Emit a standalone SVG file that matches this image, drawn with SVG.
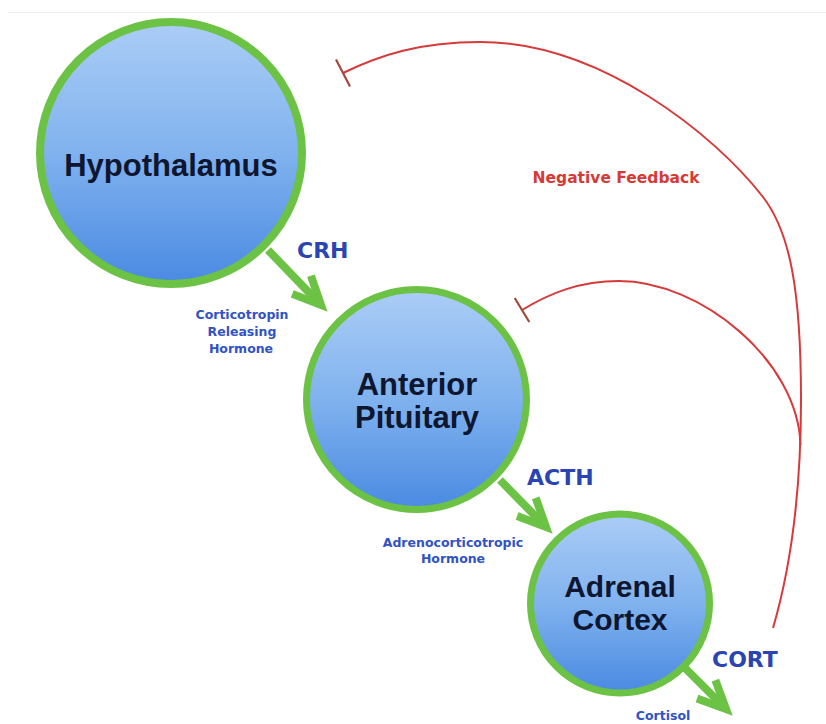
<svg xmlns="http://www.w3.org/2000/svg" width="826" height="724" viewBox="0 0 826 724">
  <defs>
    <linearGradient id="blue" x1="0" y1="0" x2="0" y2="1">
      <stop offset="0" stop-color="#abcdf6"/>
      <stop offset="0.5" stop-color="#80b2ee"/>
      <stop offset="1" stop-color="#4a8ae2"/>
    </linearGradient>
    <marker id="chev" markerUnits="userSpaceOnUse" markerWidth="60" markerHeight="60" viewBox="-40 -30 60 60" refX="0" refY="0" orient="auto" overflow="visible">
      <path d="M -28,-13 L 0,0 L -28,13" fill="none" stroke="#6cc245" stroke-width="8" stroke-linejoin="miter" stroke-miterlimit="4"/>
    </marker>
    <style>
      .node circle { fill: url(#blue); stroke: #6cc245; }
      .nlabel { font-family: "Liberation Sans", Arial, sans-serif; font-weight: bold; fill: #0e1630; text-anchor: middle; }
      .hlabel { font-family: "DejaVu Sans", Verdana, sans-serif; font-weight: bold; fill: #2a45b3; font-size: 22px; }
      .small { font-family: "DejaVu Sans", Verdana, sans-serif; font-weight: bold; fill: #3152c4; font-size: 12.5px; text-anchor: middle; }
      .flow { stroke: #6cc245; stroke-width: 8; fill: none; marker-end: url(#chev); }
      .fb { stroke: #d63a3a; stroke-width: 2; fill: none; }
      .bar { stroke: #a04a3c; stroke-width: 2.2; fill: none; }
      .fbtext { font-family: "DejaVu Sans", Verdana, sans-serif; font-weight: bold; fill: #d63a36; font-size: 15.5px; text-anchor: middle; }
    </style>
  </defs>
  <rect width="826" height="724" fill="#ffffff"/>
  <line x1="8" y1="12.5" x2="826" y2="12.5" stroke="#ededed" stroke-width="1"/>

  <g id="connectors">
    <path class="flow" d="M 268,250 L 321,305"/>
    <path class="flow" d="M 500,480 L 546,527"/>
    <path class="flow" d="M 684,667 L 726,709"/>
    <path class="fb" d="M 773,628 C 790,570 801,500 801,400 C 801,290 790,232 763,197 C 715,135 600,42 480,42 C 420,42 380,55 343,73"/>
    <path class="bar" d="M 336,59.5 L 350,86.5"/>
    <path class="fb" d="M 800.5,445 C 798,360 700,281 619,281 C 580,281 550,293 522,310"/>
    <path class="bar" d="M 514.7,298 L 529.3,322"/>
  </g>

  <g id="hypothalamus" class="node">
    <circle cx="171" cy="153" r="131" stroke-width="8"/>
    <text class="nlabel" x="171" y="176" font-size="31">Hypothalamus</text>
  </g>
  <g id="anterior-pituitary" class="node">
    <circle cx="416.5" cy="399.5" r="110" stroke-width="7"/>
    <text class="nlabel" x="417" y="395" font-size="31">Anterior</text>
    <text class="nlabel" x="417" y="428" font-size="31">Pituitary</text>
  </g>
  <g id="adrenal-cortex" class="node">
    <circle cx="620" cy="603.5" r="89.5" stroke-width="7"/>
    <text class="nlabel" x="620" y="597" font-size="30">Adrenal</text>
    <text class="nlabel" x="620" y="630" font-size="30">Cortex</text>
  </g>

  <g id="labels">
    <text class="hlabel" x="297" y="258">CRH</text>
    <text class="small" x="242" y="319">Corticotropin</text>
    <text class="small" x="242" y="336">Releasing</text>
    <text class="small" x="241" y="353">Hormone</text>
    <text class="hlabel" x="527" y="485">ACTH</text>
    <text class="small" x="453" y="547">Adrenocorticotropic</text>
    <text class="small" x="453" y="563">Hormone</text>
    <text class="hlabel" x="712" y="667">CORT</text>
    <text class="small" x="663" y="720">Cortisol</text>
    <text class="fbtext" x="616" y="183">Negative Feedback</text>
  </g>
</svg>
